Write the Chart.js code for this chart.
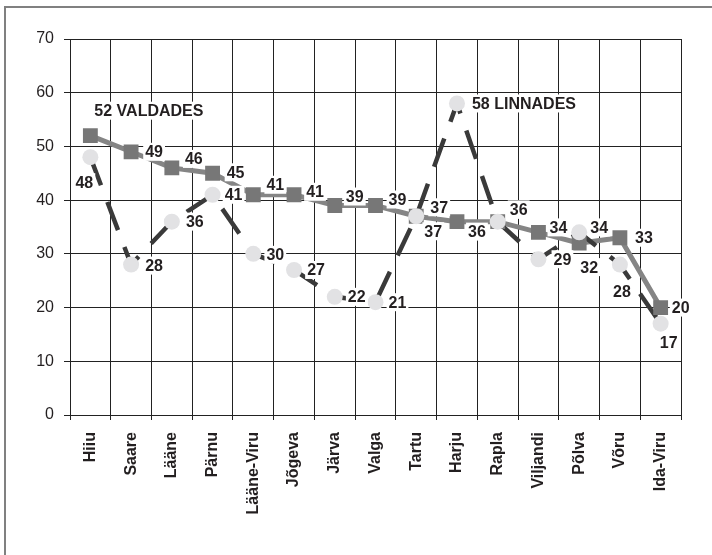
<!DOCTYPE html>
<html>
<head>
<meta charset="utf-8">
<script src="https://cdn.jsdelivr.net/npm/chart.js@4/dist/chart.umd.min.js"></script>
<style>
  body { margin: 0; background: #fff; }
  #wrap { position: relative; width: 712px; height: 555px; overflow: hidden; }
  #frame { position: absolute; left: 4px; top: 6px; width: 760px; height: 600px; border: 2px solid #808080; box-sizing: border-box; }
  canvas { position: absolute; left: 0; top: 0; }
</style>
</head>
<body>
<div id="wrap">
  <div id="frame"></div>
  <canvas id="chart" width="712" height="555"></canvas>
</div>
<script>
// maakonnad
var counties = ['Hiiu', 'Saare', 'Lääne', 'Pärnu', 'Lääne-Viru', 'Jõgeva', 'Järva', 'Valga',
    'Tartu', 'Harju', 'Rapla', 'Viljandi', 'Põlva', 'Võru', 'Ida-Viru'];
var valdades = [52, 49, 46, 45, 41, 41, 39, 39, 37, 36, 36, 34, 32, 33, 20];
var linnades = [48, 28, 36, 41, 30, 27, 22, 21, 37, 58, 36, 29, 34, 28, 17];
var yTicks = [0, 10, 20, 30, 40, 50, 60, 70];
var seriesNames = ['VALDADES', 'LINNADES'];
var calloutAt = [0, 9]; // where the series name is written next to the value

// label placement (dx, dy from the point, alignment)
var valdShift = [[4, -25, 'left'], [23, 0], [22, -9], [23, -1], [22, -10], [21, -3], [20, -9], [22, -6],
    [17, 15], [20, 10], [21, -12], [20, -5], [10, 24], [24, 0], [20, 0]];
var linnShift = [[-6, 25], [23, 1], [23, 0], [21, 0], [22, 1], [22, 0], [22, 0], [22, 0],
    [23, -9], [15, 0, 'left'], [21, -12], [24, 0], [20, -5], [2, 27], [8, 19]];

var FONT = '"Liberation Sans", Arial, sans-serif';
var INK = '#231f20';

var valueLabels = {
    id: 'valueLabels',
    afterDatasetsDraw(chart) {
        var ctx = chart.ctx;
        var xs = chart.scales.x, ys = chart.scales.y;
        ctx.save();
        ctx.font = 'bold 16px ' + FONT;
        ctx.textBaseline = 'middle';
        [[valdades, valdShift, 0], [linnades, linnShift, 1]].forEach(function (s) {
            s[0].forEach(function (v, i) {
                var sh = s[1][i];
                var txt = String(v);
                if (calloutAt[s[2]] === i) txt += ' ' + seriesNames[s[2]];
                var w = ctx.measureText(txt).width;
                var x = xs.getPixelForValue(i) + sh[0];
                var y = ys.getPixelForValue(v) + sh[1];
                var left = sh[2] === 'left' ? x : x - w / 2;
                ctx.fillStyle = '#fff';
                ctx.fillRect(left - 2, y - 9, w + 4, 18);
                ctx.fillStyle = INK;
                ctx.textAlign = 'left';
                ctx.fillText(txt, left, y + 1);
            });
        });
        ctx.restore();
    }
};

var ctx = document.getElementById('chart').getContext('2d');
new Chart(ctx, {
    type: 'line',
    data: {
        labels: counties,
        datasets: [
            { label: 'linnades', data: linnades, showLine: false, order: 0,
              pointStyle: 'circle', pointRadius: 8, pointBackgroundColor: '#e2e2e4',
              pointBorderWidth: 0, pointBorderColor: '#e2e2e4' },
            { label: 'valdades', data: valdades, showLine: false, order: 1,
              pointStyle: 'rect', pointRadius: 10.5, pointBackgroundColor: '#777777',
              pointBorderWidth: 0, pointBorderColor: '#777777' },
            { label: 'linnades joon', data: linnades, order: 2, pointRadius: 0,
              borderColor: '#3a3a3a', borderWidth: 4.5, borderDash: [30, 18],
              borderCapStyle: 'butt', fill: false, tension: 0 },
            { label: 'valdades joon', data: valdades, order: 3, pointRadius: 0,
              borderColor: '#858585', borderWidth: 5, fill: false, tension: 0 }
        ]
    },
    options: {
        responsive: false,
        animation: false,
        layout: { padding: { top: 39, right: 31, left: 0, bottom: 0 } },
        plugins: { legend: { display: false }, tooltip: { enabled: false } },
        scales: {
            x: {
                offset: true,
                grid: { offset: true, color: '#222', lineWidth: 1, tickLength: 5 },
                border: { color: '#222', width: 1 },
                ticks: { color: INK, font: { family: FONT, size: 16, weight: 'bold' },
                         minRotation: 90, maxRotation: 90, padding: 12, autoSkip: false },
                afterFit: function (s) { s.height = 140; }
            },
            y: {
                min: 0, max: 70,
                afterBuildTicks: function (s) { s.ticks = yTicks.map(function (v) { return { value: v }; }); },
                grid: { color: '#222', lineWidth: 1, tickLength: 6 },
                border: { color: '#222', width: 1 },
                ticks: { color: INK, font: { family: FONT, size: 16 }, padding: 10 },
                afterFit: function (s) { s.width = 70; }
            }
        }
    },
    plugins: [valueLabels]
});
</script>
</body>
</html>
